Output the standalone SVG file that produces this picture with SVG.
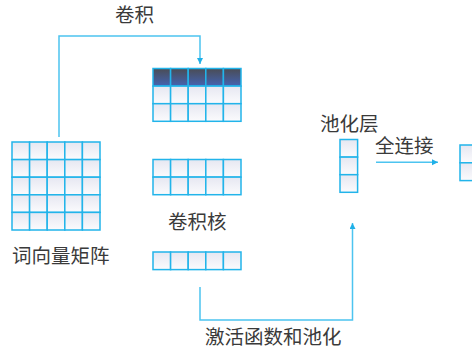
<svg xmlns="http://www.w3.org/2000/svg" width="472" height="351" viewBox="0 0 472 351">
<defs>
<linearGradient id="cg" x1="0" y1="0" x2="0" y2="1"><stop offset="0" stop-color="#e6e7f1"/><stop offset="1" stop-color="#fbfbfd"/></linearGradient>
<linearGradient id="hg" x1="0" y1="0" x2="0" y2="1"><stop offset="0" stop-color="#4a4c54"/><stop offset="1" stop-color="#4463b2"/></linearGradient>
<marker id="ah" markerUnits="userSpaceOnUse" markerWidth="8" markerHeight="8" refX="6" refY="3" orient="auto"><path d="M0,0 L6,3 L0,6 z" fill="#1fb0e8"/></marker>
<style>
.c{fill:url(#cg);stroke:#22b4ea;stroke-width:1.5}
.h{fill:url(#hg);stroke:#22b4ea;stroke-width:1.5}
.k{fill:none;stroke:#4cc4f0;stroke-width:1.5}
.t{font-family:"Noto Sans CJK SC",sans-serif;font-size:19.5px;fill:#3a3a3a}
</style>
</defs>
<rect width="472" height="351" fill="#ffffff"/>
<g id="connectors">
<path class="k" d="M59,137 V36 H200 V64" marker-end="url(#ah)"/>
<path class="k" d="M200,287 V320 H352.5 V223" marker-end="url(#ah)"/>
<path class="k" d="M376,162.3 H438" marker-end="url(#ah)"/>
</g>
<g id="word-matrix">
<rect class="c" x="12" y="142" width="17.6" height="17.6"/><rect class="c" x="29.6" y="142" width="17.6" height="17.6"/><rect class="c" x="47.2" y="142" width="17.6" height="17.6"/><rect class="c" x="64.8" y="142" width="17.6" height="17.6"/><rect class="c" x="82.4" y="142" width="17.6" height="17.6"/>
<rect class="c" x="12" y="159.6" width="17.6" height="17.6"/><rect class="c" x="29.6" y="159.6" width="17.6" height="17.6"/><rect class="c" x="47.2" y="159.6" width="17.6" height="17.6"/><rect class="c" x="64.8" y="159.6" width="17.6" height="17.6"/><rect class="c" x="82.4" y="159.6" width="17.6" height="17.6"/>
<rect class="c" x="12" y="177.2" width="17.6" height="17.6"/><rect class="c" x="29.6" y="177.2" width="17.6" height="17.6"/><rect class="c" x="47.2" y="177.2" width="17.6" height="17.6"/><rect class="c" x="64.8" y="177.2" width="17.6" height="17.6"/><rect class="c" x="82.4" y="177.2" width="17.6" height="17.6"/>
<rect class="c" x="12" y="194.8" width="17.6" height="17.6"/><rect class="c" x="29.6" y="194.8" width="17.6" height="17.6"/><rect class="c" x="47.2" y="194.8" width="17.6" height="17.6"/><rect class="c" x="64.8" y="194.8" width="17.6" height="17.6"/><rect class="c" x="82.4" y="194.8" width="17.6" height="17.6"/>
<rect class="c" x="12" y="212.4" width="17.6" height="17.6"/><rect class="c" x="29.6" y="212.4" width="17.6" height="17.6"/><rect class="c" x="47.2" y="212.4" width="17.6" height="17.6"/><rect class="c" x="64.8" y="212.4" width="17.6" height="17.6"/><rect class="c" x="82.4" y="212.4" width="17.6" height="17.6"/>
<text class="t" x="12" y="263">词向量矩阵</text>
</g>
<g id="kernel-top">
<rect class="h" x="153" y="68.5" width="17.6" height="17.6"/><rect class="h" x="170.6" y="68.5" width="17.6" height="17.6"/><rect class="h" x="188.2" y="68.5" width="17.6" height="17.6"/><rect class="h" x="205.8" y="68.5" width="17.6" height="17.6"/><rect class="h" x="223.4" y="68.5" width="17.6" height="17.6"/>
<rect class="c" x="153" y="86.1" width="17.6" height="17.6"/><rect class="c" x="170.6" y="86.1" width="17.6" height="17.6"/><rect class="c" x="188.2" y="86.1" width="17.6" height="17.6"/><rect class="c" x="205.8" y="86.1" width="17.6" height="17.6"/><rect class="c" x="223.4" y="86.1" width="17.6" height="17.6"/>
<rect class="c" x="153" y="103.7" width="17.6" height="17.6"/><rect class="c" x="170.6" y="103.7" width="17.6" height="17.6"/><rect class="c" x="188.2" y="103.7" width="17.6" height="17.6"/><rect class="c" x="205.8" y="103.7" width="17.6" height="17.6"/><rect class="c" x="223.4" y="103.7" width="17.6" height="17.6"/>
</g>
<g id="kernel-mid">
<rect class="c" x="153" y="159.5" width="17.6" height="17.6"/><rect class="c" x="170.6" y="159.5" width="17.6" height="17.6"/><rect class="c" x="188.2" y="159.5" width="17.6" height="17.6"/><rect class="c" x="205.8" y="159.5" width="17.6" height="17.6"/><rect class="c" x="223.4" y="159.5" width="17.6" height="17.6"/>
<rect class="c" x="153" y="177.1" width="17.6" height="17.6"/><rect class="c" x="170.6" y="177.1" width="17.6" height="17.6"/><rect class="c" x="188.2" y="177.1" width="17.6" height="17.6"/><rect class="c" x="205.8" y="177.1" width="17.6" height="17.6"/><rect class="c" x="223.4" y="177.1" width="17.6" height="17.6"/>
<text class="t" x="168" y="229">卷积核</text>
</g>
<g id="kernel-bottom">
<rect class="c" x="153" y="252" width="17.6" height="17.6"/><rect class="c" x="170.6" y="252" width="17.6" height="17.6"/><rect class="c" x="188.2" y="252" width="17.6" height="17.6"/><rect class="c" x="205.8" y="252" width="17.6" height="17.6"/><rect class="c" x="223.4" y="252" width="17.6" height="17.6"/>
</g>
<g id="pool">
<rect class="c" x="340" y="139.5" width="17.6" height="17.6"/><rect class="c" x="340" y="157.1" width="17.6" height="17.6"/><rect class="c" x="340" y="174.7" width="17.6" height="17.6"/>
<text class="t" x="320" y="131">池化层</text>
</g>
<g id="output">
<rect class="c" x="460" y="145" width="17.6" height="17.8"/><rect class="c" x="460" y="162.8" width="17.6" height="17.8"/>
</g>
<g id="labels">
<text class="t" x="115" y="22">卷积</text>
<text class="t" x="375" y="153">全连接</text>
<text class="t" x="205" y="344">激活函数和池化</text>
</g>
</svg>
